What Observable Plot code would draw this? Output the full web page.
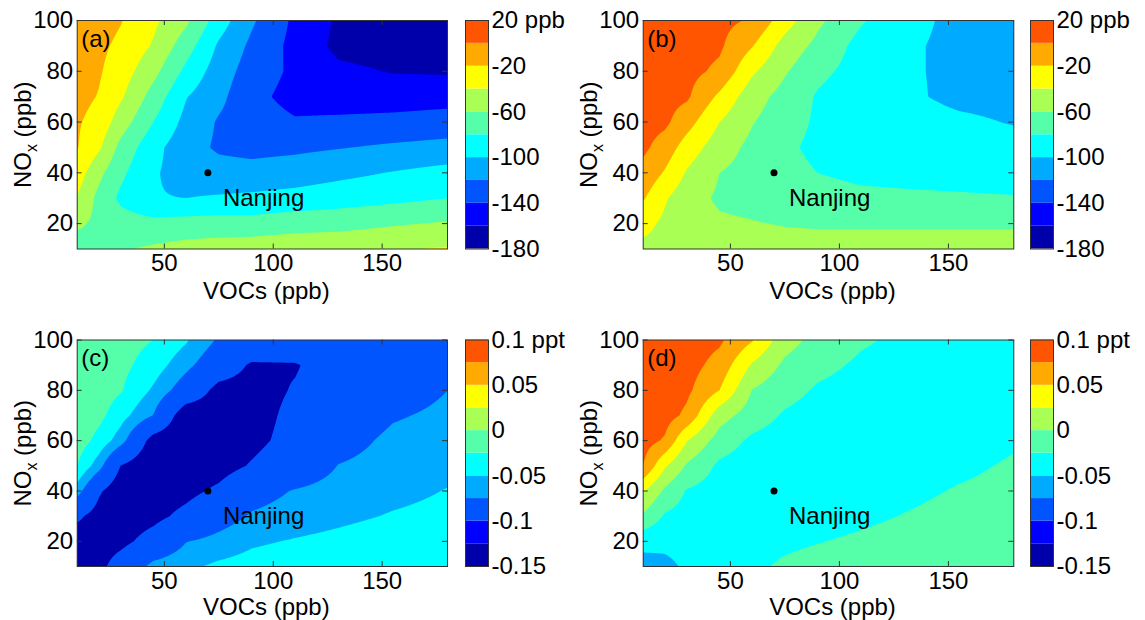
<!DOCTYPE html>
<html>
<head>
<meta charset="utf-8">
<script src="https://cdn.jsdelivr.net/npm/d3@7"></script>
<script src="https://cdn.jsdelivr.net/npm/@observablehq/plot@0.6"></script>
<style>
  html, body { margin: 0; padding: 0; background: #fff; }
  #fig { position: relative; width: 1145px; height: 620px; background: #fff; overflow: hidden; }
  #fig svg { position: absolute; overflow: visible; background: none !important; max-width: none !important; }
</style>
</head>
<body>
<div id="fig"></div>
<script>
// ---------------- data ----------------
const vocs = [10, 20, 30, 45, 60, 75, 90, 110, 130, 155, 180];      // grid columns (VOCs, ppb)
const noxRows = [100, 90, 80, 70, 60, 50, 40, 30, 20, 10];            // grid rows (NOx, ppb), top to bottom

// (a) ozone change, ppb
const gridA = [
  [-5, -12, -19, -36, -56, -90, -117, -144, -163, -172, -175],
  [-10, -16, -24, -42, -71, -103, -124, -146, -165, -168, -170],
  [-13, -18, -30, -54, -85, -110, -129, -144, -156, -161, -162],
  [-14, -21, -37, -68, -99, -115, -134, -147, -150, -150, -148],
  [-18, -27, -50, -80, -106, -122, -130, -138, -136, -134, -131],
  [-19, -37, -66, -94, -112, -123, -126, -124, -121, -117, -114],
  [-30, -55, -76, -98, -108, -112, -113, -110, -105, -99, -93],
  [-41, -66, -84, -99, -100, -98, -96, -93, -89, -85, -80],
  [-57, -64, -71, -74, -72, -71, -72, -68, -67, -62, -58],
  [-68, -65, -62, -57, -53, -51, -49, -47, -45, -42, -38]
];
// (b) ozone change, ppb
const gridB = [
  [15, 13, 10, 5, -2, -31, -56, -78, -95, -104, -108],
  [14, 11, 8, 3, -19, -48, -65, -87, -97.5, -104, -107],
  [12, 9, 6, -4, -37, -58, -75, -88, -97.5, -104, -106],
  [10, 7, 3, -24, -52, -67, -82, -92, -97, -104, -105],
  [8, 4, -12, -40, -59, -71, -83, -89, -93, -97, -101],
  [4, -9, -29, -51, -65, -76, -85, -88, -90, -92, -94],
  [-6, -22, -42, -60, -67, -73, -80, -84, -85, -86, -87],
  [-18, -38, -52, -63, -66, -70, -73, -76, -77, -78, -79],
  [-34, -44, -50, -57, -59, -61, -62, -62, -62, -62, -62],
  [-45, -46, -49, -51, -52, -53, -53, -53, -53, -53, -53]
];
// (c) radical change, ppt
const gridC = [
  [-0.003, -0.009, -0.015, -0.025, -0.047, -0.079, -0.090, -0.095, -0.092, -0.088, -0.085],
  [-0.005, -0.011, -0.018, -0.037, -0.067, -0.100, -0.130, -0.128, -0.105, -0.092, -0.085],
  [-0.006, -0.012, -0.023, -0.054, -0.0935, -0.138, -0.140, -0.122, -0.105, -0.090, -0.075],
  [-0.008, -0.018, -0.040, -0.076, -0.152, -0.145, -0.140, -0.115, -0.098, -0.078, -0.069],
  [-0.012, -0.033, -0.063, -0.142, -0.155, -0.145, -0.135, -0.112, -0.088, -0.068, -0.062],
  [-0.025, -0.064, -0.126, -0.155, -0.149, -0.140, -0.122, -0.100, -0.074, -0.064, -0.056],
  [-0.062, -0.120, -0.150, -0.145, -0.135, -0.118, -0.088, -0.073, -0.064, -0.057, -0.049],
  [-0.118, -0.140, -0.145, -0.135, -0.115, -0.090, -0.072, -0.063, -0.056, -0.048, -0.043],
  [-0.145, -0.142, -0.135, -0.110, -0.076, -0.066, -0.054, -0.048, -0.043, -0.036, -0.030],
  [-0.149, -0.135, -0.107, -0.065, -0.055, -0.045, -0.040, -0.035, -0.030, -0.028, -0.026]
];
// (d) radical change, ppt
const gridD = [
  [0.095, 0.092, 0.088, 0.079, 0.052, 0.010, -0.008, -0.022, -0.030, -0.035, -0.037],
  [0.094, 0.090, 0.085, 0.066, 0.022, -0.005, -0.018, -0.029, -0.034, -0.037, -0.038],
  [0.093, 0.088, 0.080, 0.050, -0.001, -0.016, -0.028, -0.035, -0.038, -0.040, -0.040],
  [0.090, 0.085, 0.070, 0.010, -0.012, -0.028, -0.035, -0.040, -0.042, -0.043, -0.043],
  [0.085, 0.072, 0.026, -0.011, -0.030, -0.037, -0.040, -0.042, -0.042, -0.036, -0.028],
  [0.075, 0.028, -0.003, -0.030, -0.038, -0.042, -0.043, -0.042, -0.038, -0.030, -0.022],
  [0.027, -0.005, -0.027, -0.036, -0.040, -0.042, -0.041, -0.038, -0.031, -0.023, -0.018],
  [-0.004, -0.028, -0.035, -0.040, -0.041, -0.040, -0.035, -0.030, -0.024, -0.017, -0.012],
  [-0.042, -0.045, -0.043, -0.040, -0.034, -0.030, -0.026, -0.021, -0.016, -0.010, -0.006],
  [-0.060, -0.055, -0.047, -0.039, -0.030, -0.021, -0.016, -0.012, -0.008, -0.004, -0.002]
];

const ozoneLevels = [-180, -160, -140, -120, -100, -80, -60, -40, -20, 0, 20];
const ozoneTicks = [-180, -140, -100, -60, -20, 20];
const radLevels = [-0.15, -0.125, -0.1, -0.075, -0.05, -0.025, 0, 0.025, 0.05, 0.075, 0.1];
const radTicks = [-0.15, -0.1, -0.05, 0, 0.05, 0.1];
const jet = ["#0000AA", "#0000FF", "#0055FF", "#00AAFF", "#00FFFF", "#55FFAA", "#AAFF55", "#FFFF00", "#FFAA00", "#FF5500"];
const jetC = ["#0000AA", "#0055FF", "#0055FF", "#00AAFF", "#00FFFF", "#55FFAA", "#AAFF55", "#FFFF00", "#FFAA00", "#FF5500"];

const xTicks = [50, 100, 150];
const yTicks = [20, 40, 60, 80, 100];
const site = [{name: "Nanjing", v: 70, n: 40}];

// ---------------- layout ----------------
const FONT = "'Liberation Sans', Arial, Helvetica, sans-serif";
const FS = 24;
const panels = [
  {label: "(a)", grid: gridA, levels: ozoneLevels, ticks: ozoneTicks, unit: "ppb", colors: jet, labelDy: 42,
   L: 0, T: 0, fx0: 76.7, fx1: 447, fy0: 20, fy1: 248.5, cb0: 465, cb1: 488},
  {label: "(b)", grid: gridB, levels: ozoneLevels, ticks: ozoneTicks, unit: "ppb", colors: jet, labelDy: 42,
   L: 566, T: 0, fx0: 642.7, fx1: 1013.3, fy0: 20, fy1: 248.5, cb0: 1030, cb1: 1053},
  {label: "(c)", grid: gridC, levels: radLevels, ticks: radTicks, unit: "ppt", colors: jetC, labelDy: 41,
   L: 0, T: 310, fx0: 76.7, fx1: 447, fy0: 339.5, fy1: 566, cb0: 465, cb1: 488},
  {label: "(d)", grid: gridD, levels: radLevels, ticks: radTicks, unit: "ppt", colors: jet, labelDy: 41,
   L: 566, T: 310, fx0: 642.7, fx1: 1013.3, fy0: 339.5, fy1: 566, cb0: 1030, cb1: 1053}
];

const fig = document.getElementById("fig");
const noxAsc = noxRows.slice().reverse();

// bilinear sampling of the gridded values between grid nodes
function sampler(grid) {
  const rows = grid.slice().reverse();
  const clampIdx = (k, n) => Math.max(0, Math.min(n - 2, k));
  return (x, y) => {
    const j = clampIdx(d3.bisectRight(vocs, x) - 1, vocs.length);
    const i = clampIdx(d3.bisectRight(noxAsc, y) - 1, noxAsc.length);
    const tx = Math.max(0, Math.min(1, (x - vocs[j]) / (vocs[j + 1] - vocs[j])));
    const ty = Math.max(0, Math.min(1, (y - noxAsc[i]) / (noxAsc[i + 1] - noxAsc[i])));
    const a = rows[i][j], b = rows[i][j + 1], c = rows[i + 1][j], d = rows[i + 1][j + 1];
    return (1 - ty) * ((1 - tx) * a + tx * b) + ty * ((1 - tx) * c + tx * d);
  };
}

function place(svg, left, top) {
  svg.style.left = left + "px";
  svg.style.top = top + "px";
  fig.appendChild(svg);
}

for (const p of panels) {
  const W = 455, H = 310;
  const mL = p.fx0 - p.L, mR = p.L + W - p.fx1, mT = p.fy0 - p.T, mB = p.T + H - p.fy1;
  const pw = p.fx1 - p.fx0, ph = p.fy1 - p.fy0;
  const contourLevels = p.levels.slice(0, -1);
  const f = sampler(p.grid);
  const svg = Plot.plot({
    width: W, height: H,
    marginLeft: mL, marginRight: mR, marginTop: mT, marginBottom: mB,
    style: {fontFamily: FONT, fontSize: FS + "px", color: "#000", background: "none"},
    x: {domain: [10, 180]},
    y: {domain: [10, 100]},
    color: {type: "threshold", domain: contourLevels.slice(1), range: p.colors},
    marks: [
      Plot.frame({fill: p.colors[0]}),
      Plot.contour({
        x1: 10, x2: 180, y1: 10, y2: 100,
        fill: (x, y) => f(x, y),
        thresholds: contourLevels,
        pixelSize: 1, stroke: "none"
      }),
      Plot.ruleX(xTicks, {x: d => d, insetTop: ph - 5, stroke: "#333"}),
      Plot.ruleX(xTicks, {x: d => d, insetBottom: ph - 5, stroke: "#333"}),
      Plot.ruleY(yTicks, {y: d => d, insetRight: pw - 5, stroke: "#333"}),
      Plot.ruleY(yTicks, {y: d => d, insetLeft: pw - 5, stroke: "#333"}),
      Plot.frame({stroke: "#333", strokeWidth: 1}),
      Plot.axisX(xTicks, {tickSize: 0, tickPadding: 5, tickFormat: d => String(d), fontSize: FS, label: null}),
      Plot.axisY(yTicks, {tickSize: 0, tickPadding: 4, tickFormat: d => String(d), fontSize: FS, label: null}),
      Plot.dot(site, {x: "v", y: "n", r: 3.5, fill: "#000", stroke: "none"}),
      Plot.text(site, {x: "v", y: "n", text: "name", textAnchor: "start", dx: 15, dy: 25, fontSize: FS}),
      Plot.text([p.label], {frameAnchor: "top-left", dx: 4, dy: 9, fontSize: FS}),
      Plot.text(["VOCs (ppb)"], {frameAnchor: "bottom", lineAnchor: "middle", textAnchor: "middle", dy: p.labelDy, dx: 4, fontSize: FS}),
      Plot.text(["NOx (ppb)"], {frameAnchor: "left", lineAnchor: "middle", textAnchor: "middle", dx: -54, rotate: -90, fontSize: FS})
    ]
  });
  // subscript x in NOx
  d3.select(svg).selectAll("text").each(function () {
    if (this.textContent === "NOx (ppb)") {
      const t = d3.select(this);
      t.text(null);
      t.append("tspan").text("NO");
      t.append("tspan").attr("dy", 6).attr("font-size", "16px").text("x");
      t.append("tspan").attr("dy", -6).text(" (ppb)");
    }
  });
  place(svg, p.L, p.T);

  // colorbar
  const cbL = p.cb0 - 10, cbW = 120;
  const bands = p.levels.slice(0, -1).map((lo, i) => ({lo, hi: p.levels[i + 1], c: jet[i]}));
  const top = p.levels[p.levels.length - 1];
  const cb = Plot.plot({
    width: cbW, height: H,
    marginLeft: 10, marginRight: cbW - 10 - (p.cb1 - p.cb0), marginTop: mT, marginBottom: mB,
    style: {fontFamily: FONT, fontSize: FS + "px", color: "#000", background: "none"},
    x: {domain: [0, 1], axis: null},
    y: {domain: [p.levels[0], top], axis: null},
    color: {type: "identity"},
    marks: [
      Plot.rect(bands, {x1: 0, x2: 1, y1: "lo", y2: "hi", fill: "c"}),
      Plot.frame({stroke: "#333"}),
      Plot.axisY(p.ticks, {anchor: "right", tickSize: 0, tickPadding: 3, fontSize: FS, label: null,
        tickFormat: d => d === top ? `${d} ${p.unit}` : String(d)})
    ]
  });
  place(cb, cbL, p.T);
}
</script>
</body>
</html>
